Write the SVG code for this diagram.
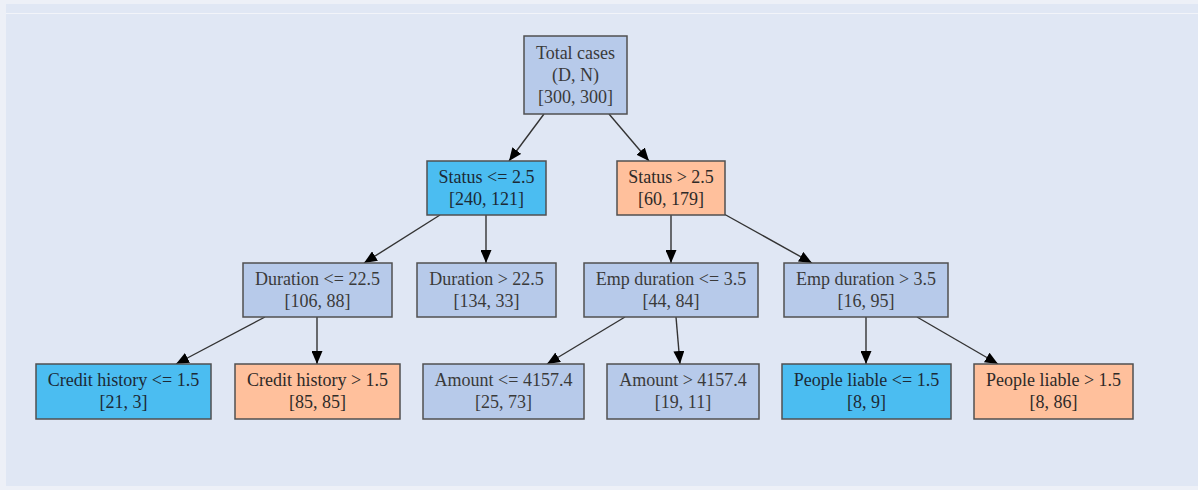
<svg xmlns="http://www.w3.org/2000/svg" width="1198" height="490" viewBox="0 0 1198 490">
<defs>
<style>
.bg{fill:#edf0f7}
.panel{fill:#e0e7f4}
.n rect{stroke:#505050;stroke-width:1.5}
.g rect{fill:#b7caea}
.b rect{fill:#4bbdf1}
.o rect{fill:#ffc09c}
.n text{font-family:"Liberation Serif","Times New Roman",serif;font-size:18px;text-anchor:middle;fill:#3a3a3a}
.b text{fill:#1c2a36}
.o text{fill:#2e2a28}
.e line{stroke:#333;stroke-width:1.4;marker-end:url(#ah)}
</style>
<marker id="ah" markerUnits="userSpaceOnUse" markerWidth="13" markerHeight="11" refX="13" refY="5.5" orient="auto">
<path d="M0,0 L13,5.5 L0,11 z" fill="#000"/>
</marker>
</defs>
<rect class="bg" x="0" y="0" width="1198" height="490"/>
<rect class="panel" x="6" y="4" width="1192" height="482"/>
<line x1="6" y1="13.5" x2="1198" y2="13.5" stroke="#f2f4f9" stroke-width="1"/>
<g id="edges" class="e">
<line x1="544" y1="114" x2="509" y2="161"/>
<line x1="609" y1="114" x2="649" y2="161"/>
<line x1="440" y1="215" x2="364" y2="263"/>
<line x1="486" y1="215" x2="486" y2="263"/>
<line x1="671" y1="215" x2="671" y2="263"/>
<line x1="724" y1="214" x2="812" y2="263"/>
<line x1="265" y1="317" x2="176" y2="364"/>
<line x1="317" y1="317" x2="317" y2="364"/>
<line x1="625" y1="317" x2="547" y2="364"/>
<line x1="676" y1="317" x2="680" y2="364"/>
<line x1="866" y1="317" x2="866" y2="364"/>
<line x1="917" y1="317" x2="998" y2="364"/>
</g>
<g id="n0" class="n g"><rect x="524" y="36" width="103" height="78"/><text x="575.5" y="59">Total cases</text><text x="575.5" y="81">(D, N)</text><text x="575.5" y="103">[300, 300]</text></g>
<g id="n1" class="n b"><rect x="427" y="161" width="119" height="54"/><text x="486.5" y="183">Status &lt;= 2.5</text><text x="486.5" y="205">[240, 121]</text></g>
<g id="n2" class="n o"><rect x="617" y="161" width="108" height="54"/><text x="671" y="183">Status &gt; 2.5</text><text x="671" y="205">[60, 179]</text></g>
<g id="n3" class="n g"><rect x="243" y="263" width="149" height="54"/><text x="317.5" y="285">Duration &lt;= 22.5</text><text x="317.5" y="307">[106, 88]</text></g>
<g id="n4" class="n g"><rect x="417" y="263" width="139" height="54"/><text x="486.5" y="285">Duration &gt; 22.5</text><text x="486.5" y="307">[134, 33]</text></g>
<g id="n5" class="n g"><rect x="584" y="263" width="174" height="54"/><text x="671" y="285">Emp duration &lt;= 3.5</text><text x="671" y="307">[44, 84]</text></g>
<g id="n6" class="n g"><rect x="784" y="263" width="164" height="54"/><text x="866" y="285">Emp duration &gt; 3.5</text><text x="866" y="307">[16, 95]</text></g>
<g id="n7" class="n b"><rect x="36" y="364" width="175" height="55"/><text x="123.5" y="386">Credit history &lt;= 1.5</text><text x="123.5" y="408">[21, 3]</text></g>
<g id="n8" class="n o"><rect x="235" y="364" width="165" height="55"/><text x="317.5" y="386">Credit history &gt; 1.5</text><text x="317.5" y="408">[85, 85]</text></g>
<g id="n9" class="n g"><rect x="423" y="364" width="161" height="55"/><text x="503.5" y="386">Amount &lt;= 4157.4</text><text x="503.5" y="408">[25, 73]</text></g>
<g id="n10" class="n g"><rect x="607" y="364" width="152" height="55"/><text x="683" y="386">Amount &gt; 4157.4</text><text x="683" y="408">[19, 11]</text></g>
<g id="n11" class="n b"><rect x="782" y="364" width="169" height="55"/><text x="866.5" y="386">People liable &lt;= 1.5</text><text x="866.5" y="408">[8, 9]</text></g>
<g id="n12" class="n o"><rect x="974" y="364" width="159" height="55"/><text x="1053.5" y="386">People liable &gt; 1.5</text><text x="1053.5" y="408">[8, 86]</text></g>
</svg>
